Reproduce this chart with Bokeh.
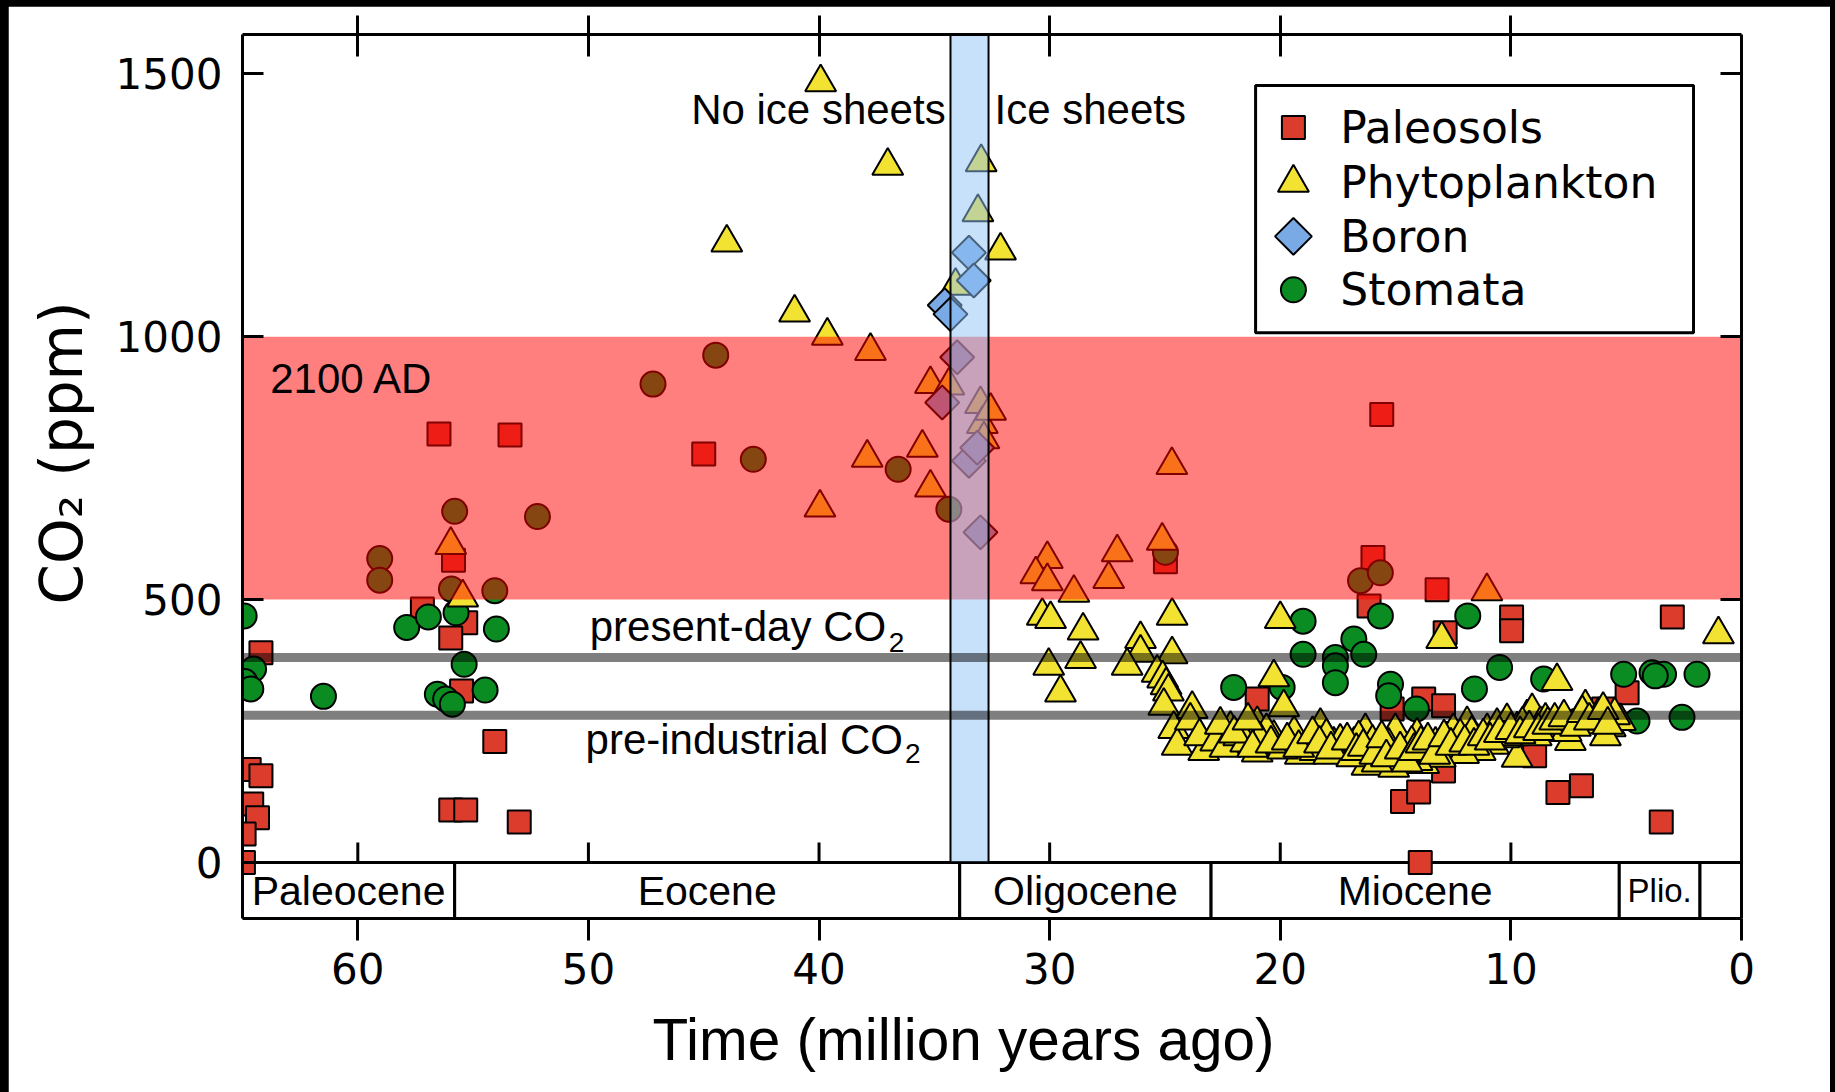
import numpy as np
from bokeh.plotting import figure
from bokeh.models import Range1d, LinearAxis, FixedTicker, Label, ColumnDataSource, Title
from bokeh.layouts import column
from bokeh.embed import file_html
from bokeh.resources import INLINE
from bokeh.core.properties import value

# ---------------- data (time in Myr ago, CO2 in ppm) ----------------
paleo_x = [56.48, 53.4, 55.85, 55.32, 55.97, 64.2, 64.78, 55.5, 54.06, 64.71, 64.2, 64.6, 64.35,
           64.93, 64.96, 55.97, 55.32, 53.0, 57.2, 45.0,
           24.98, 21.0, 15.98, 16.15, 15.6, 15.15, 14.38, 14.7, 14.0, 13.93, 13.2, 12.85, 13.78,
           12.92, 12.92, 9.97, 9.97, 8.97, 7.96, 6.94, 5.98, 4.96, 3.0, 3.48]
paleo_y = [815, 813, 575, 456, 427, 399, 340, 326, 230, 177, 165, 111, 85,
           54, 0, 100, 100, 77, 482, 777,
           572, 311, 580, 488, 852, 292, 203, 116, 134, 0, 519, 437, 311,
           298, 174, 467, 441, 203, 133, 146, 292, 323, 467, 77]

phyto_x = [39.93, 37.02, 44.0, 41.06, 39.64, 37.77, 32.97, 33.11, 32.13, 34.08, 35.17, 34.37, 35.52,
           37.91, 35.17, 39.96, 33.0, 32.92, 32.85, 32.56,
           55.97, 55.45,
           30.1, 30.6, 30.1, 28.95, 27.07, 27.44, 25.12, 24.7, 30.32, 29.96, 28.55, 30.04, 29.53,
           28.66, 26.06, 26.06, 26.64, 24.69, 24.69, 25.34, 25.1, 24.95, 24.85, 25.05, 24.62, 24.47,
           23.82, 23.32, 22.16, 21.0, 21.0, 20.28, 20.0, 19.85, 20.28, 19.56, 19.13, 18.26, 17.68,
           17.25, 16.8, 16.31, 16.24, 15.52, 14.94,
           15.66, 15.01, 14.07, 13.78, 13.27, 12.77, 12.33, 11.9, 11.47, 11.03, 10.6, 10.17, 9.73,
           9.73, 9.3, 9.08, 8.72, 8.29, 7.42, 6.77, 6.41, 5.69, 5.25, 8.0, 1.0, 13.0, 10.75, 11.33,
           12.05, 13.06, 14.07, 15.08, 11.04,
           23.9, 23.5, 22.8, 22.4, 21.8, 21.5, 20.6, 20.9, 19.9, 19.4, 18.8, 18.5, 18.0, 17.9, 17.4,
           16.9, 16.6, 16.0, 15.8, 15.3, 14.6, 14.3, 13.5, 12.5, 12.2, 11.7, 10.3, 9.9, 9.5, 8.9,
           8.5, 7.8, 7.6, 7.0, 6.2, 5.9, 5.5,
           22.6, 22.0, 21.4, 21.2, 20.4, 19.7, 19.2, 18.6, 18.3, 17.8, 17.1, 16.7, 16.4, 15.9,
           15.6, 15.4, 14.8, 14.5, 14.2, 13.9, 13.6, 13.3, 12.9, 12.6, 12.0, 11.6, 11.2, 10.9,
           10.5, 10.0, 9.6, 9.2, 8.8, 8.4, 8.1, 7.7, 7.2, 6.9, 6.6, 6.0, 5.8]
phyto_y = [1484, 1325, 1179, 1046, 1002, 973, 1332, 1237, 1164, 1097, 910, 907, 789,
           770, 713, 675, 872, 834, 805, 859,
           604, 504,
           577, 548, 535, 513, 590, 539, 612, 756, 469, 463, 441, 374, 323,
           387, 425, 399, 374, 469, 396, 361, 350, 337, 325, 298, 254, 222,
           292, 212, 254, 263, 209, 352, 463, 295, 237, 224, 205, 260, 224,
           218, 224, 250, 184, 212, 238,
           209, 250, 241, 187, 224, 234, 218, 263, 231, 250, 260, 269, 253,
           199, 276, 288, 263, 250, 231, 295, 263, 257, 269, 345, 434, 425, 224, 212,
           206, 199, 193, 180, 516,
           270, 240, 230, 218, 240, 228, 250, 235, 215, 245, 226, 212, 240, 205, 230,
           200, 236, 228, 190, 222, 205, 226, 210, 250, 240, 245, 236, 240, 262, 240,
           270, 262, 248, 270, 280, 240, 280,
           262, 245, 270, 218, 226, 232, 218, 244, 226, 215, 232, 212, 220, 205,
           236, 200, 215, 190, 212, 226, 232, 205, 238, 222, 228, 222, 240, 232,
           246, 252, 244, 255, 250, 262, 270, 276, 258, 284, 270, 290, 262]

boron_x = [33.5, 33.29, 34.55, 34.3, 34.01, 34.66, 33.5, 33.14, 33.0]
boron_y = [1160, 1107, 1060, 1043, 961, 875, 764, 789, 628]

stoma_x = [47.2, 55.8, 52.21, 59.05, 59.05, 55.94, 54.06, 64.93, 57.88, 56.94, 55.74, 53.99, 55.39,
           64.52, 64.9, 64.64, 61.49, 56.55, 56.19, 55.9, 54.48,
           44.48, 42.85, 36.57, 34.37,
           24.98, 16.52, 15.66, 19.01, 19.01, 16.81, 17.61, 17.61, 17.61, 16.38, 15.66, 22.02, 19.92,
           15.22, 15.3, 14.1,
           11.87, 11.58, 10.49, 8.58, 7.13, 5.11, 4.53, 3.88, 3.38, 3.74, 2.58, 1.93]
stoma_y = [910, 668, 658, 578, 537, 520, 517, 469, 447, 467, 475, 444, 377,
           368, 344, 330, 316, 320, 311, 301, 328,
           965, 767, 748, 672,
           590, 536, 551, 459, 396, 425, 390, 374, 342, 396, 469, 333, 333,
           339, 317, 292,
           469, 330, 371, 349, 269, 358, 269, 361, 358, 355, 276, 358]

series_names = ["Paleosols", "Phytoplankton", "Boron", "Stomata"]

epoch_names = ["Paleocene", "Eocene", "Oligocene", "Miocene", "Plio."]
epoch_bounds = [65, 55.8, 33.9, 23.0, 5.3, 1.8, 0]

x_ticks = [60, 50, 40, 30, 20, 10, 0]
y_ticks = [0, 500, 1000, 1500]

present_day = 390
pre_industrial = 280
future_low, future_high = 500, 1000
ice_left, ice_right = 34.3, 32.65

# ---------------- figure ----------------
X0, X1 = 65, 0
Y0, Y1 = -106.6, 1575

p = figure(width=1822, height=1086, output_backend="svg", toolbar_location=None,
           x_range=Range1d(X0, X1), y_range=Range1d(Y0, Y1),
           x_axis_type=None, y_axis_type=None,
           min_border_left=234, min_border_right=89, min_border_top=28, min_border_bottom=174,
           background_fill_color="white", border_fill_color="white")
p.outline_line_color = None
p.grid.visible = False
p.margin = (6, 5, 0, 8)

TICK_FONT = "DejaVu Sans"
ANN_FONT = "Liberation Sans"
AX_W = 3

left = LinearAxis(ticker=FixedTicker(ticks=y_ticks), major_tick_in=21, major_tick_out=0,
                  axis_line_width=AX_W, major_tick_line_width=AX_W,
                  major_label_text_font=TICK_FONT, major_label_text_font_size="42px",
                  major_label_standoff=20, major_label_text_color="black")
p.add_layout(left, "left")

bottom = LinearAxis(ticker=FixedTicker(ticks=x_ticks), major_tick_in=0, major_tick_out=22,
                    axis_line_width=AX_W, major_tick_line_width=AX_W,
                    major_label_text_font=TICK_FONT, major_label_text_font_size="42px",
                    major_label_standoff=12, major_label_text_color="black")
p.add_layout(bottom, "below")

top = LinearAxis(ticker=FixedTicker(ticks=x_ticks[:-1]), major_tick_in=22, major_tick_out=19,
                 axis_line_width=AX_W, major_tick_line_width=AX_W,
                 major_label_text_font_size="6px", major_label_text_color=None,
                 major_label_overrides={t: "" for t in x_ticks}, major_label_standoff=0)
p.add_layout(top, "above")

right = LinearAxis(ticker=FixedTicker(ticks=y_ticks[1:]), major_tick_in=21, major_tick_out=0,
                   axis_line_width=AX_W, major_tick_line_width=AX_W,
                   major_label_text_font_size="6px", major_label_text_color=None,
                   major_label_overrides={t: "" for t in y_ticks}, major_label_standoff=0)
p.add_layout(right, "right")

# axis titles as Titles (can be offset exactly along the frame)
p.add_layout(Title(text="Time (million years ago)", align="left", offset=410,
                   text_font=ANN_FONT, text_font_size="58.5px", text_font_style="normal",
                   text_color="black", standoff=36), "below")
p.add_layout(Title(text="CO\u2082 (ppm)", align="left", offset=314,
                   text_font=TICK_FONT, text_font_size="58px", text_font_style="normal",
                   text_color="black", standoff=34), "left")

# epoch boxes
p.quad(left=epoch_bounds[:-1], right=epoch_bounds[1:], bottom=Y0, top=0,
       fill_color="white", line_color="black", line_width=3)
ep_centers = [(a + b) / 2 for a, b in zip(epoch_bounds[:len(epoch_names)], epoch_bounds[1:len(epoch_names) + 1])]
p.text(x=ep_centers[:-1], y=-53.4, text=epoch_names[:-1], text_align="center",
       text_baseline="alphabetic", text_font=value(ANN_FONT),
       text_font_size="41px", text_color="black")
p.text(x=ep_centers[-1:], y=-53.4, text=epoch_names[-1:], text_align="center",
       text_baseline="alphabetic", text_font=value(ANN_FONT),
       text_font_size="33px", text_color="black")
# inner ticks above the epoch strip
p.segment(x0=x_ticks[:-1], y0=0, x1=x_ticks[:-1], y1=38, line_color="black", line_width=AX_W)

# data
MK_LINE = dict(line_color="black", line_width=2)
p.scatter(paleo_x, paleo_y, marker="square", size=23, fill_color="#DC3C2C", **MK_LINE)
p.scatter(stoma_x, stoma_y, marker="circle", size=25, fill_color="#0A8C22", **MK_LINE)
p.scatter(phyto_x, phyto_y, marker="triangle", size=31, fill_color="#F2E232", **MK_LINE)
p.scatter(boron_x, boron_y, marker="square", angle=np.pi / 4, size=24, fill_color="#7AAAE6", **MK_LINE)

# overlays
p.quad(left=X0, right=X1, bottom=future_low, top=future_high,
       fill_color="#FF0000", fill_alpha=0.5, line_color=None)
p.quad(left=ice_left, right=ice_right, bottom=0, top=Y1,
       fill_color="#91C3F5", fill_alpha=0.5, line_color="black", line_width=2)
p.segment(x0=X0, x1=X1, y0=present_day, y1=present_day, line_color="black", line_alpha=0.5, line_width=9)
p.segment(x0=X0, x1=X1, y0=pre_industrial, y1=pre_industrial, line_color="black", line_alpha=0.5, line_width=9)

# legend (drawn by hand to match placement)
p.quad(left=21.07, right=2.08, bottom=1007.6, top=1477.9, fill_color="white",
       line_color="black", line_width=3)
leg_y = [1398.1, 1293.0, 1190.9, 1089.4]
leg_style = [("square", 23, "#DC3C2C", 0), ("triangle", 31, "#F2E232", 0),
             ("square", 26, "#7AAAE6", np.pi / 4), ("circle", 25, "#0A8C22", 0)]
for yy, (mk, sz, col, ang) in zip(leg_y, leg_style):
    p.scatter([19.43], [yy], marker=mk, size=sz, fill_color=col, angle=ang, **MK_LINE)
p.text(x=[17.4] * 4, y=leg_y, text=series_names,
       text_font=value(TICK_FONT), text_font_size="44px", text_baseline="alphabetic",
       text_align="left", text_color="black")

# annotations
def lab(x, y, t, size, align="left", font=ANN_FONT):
    p.add_layout(Label(x=x, y=y, text=t, text_font=font, text_font_size=size,
                       text_align=align, text_baseline="alphabetic", text_color="black"))

lab(63.8, 920.4, "2100 AD", "42px")
lab(34.51, 1432.8, "No ice sheets", "42px", "right")
lab(32.39, 1432.8, "Ice sheets", "42px", "left")
lab(37.09, 449.6, "present-day CO", "42px", "right")
lab(36.98, 417.8, "2", "28px", "left")
lab(36.36, 234.6, "pre-industrial CO", "42px", "right")
lab(36.27, 208.2, "2", "28px", "left")

layout = column(p, styles={"background-color": "black"})
open("out.html", "w").write(file_html(layout, INLINE))
